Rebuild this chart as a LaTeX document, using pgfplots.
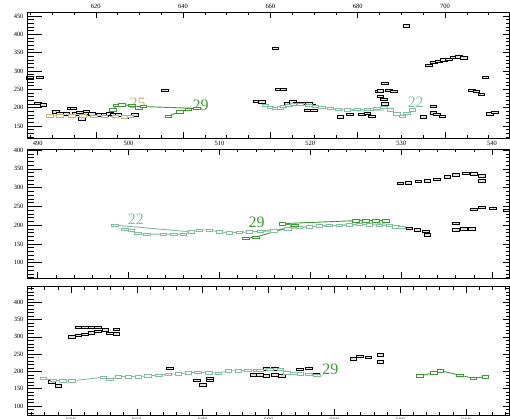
\documentclass[border=0pt]{standalone}
\usepackage{fontspec}
\setmainfont{Liberation Serif}
\usepackage{pgfplots}
\pgfplotsset{compat=1.18}
\definecolor{lg}{RGB}{128,190,158}
\definecolor{dg}{RGB}{62,152,52}
\definecolor{tanc}{RGB}{196,178,118}
\pgfdeclareplotmark{hbox}{\pgfpathrectangle{\pgfqpoint{-3.3pt}{-1.2pt}}{\pgfqpoint{6.6pt}{2.4pt}}\pgfusepathqfillstroke}
\tikzset{lab/.style={font=\fontsize{16}{16}\selectfont}}
\pgfplotsset{
 panel/.style={scale only axis, width=482bp, anchor=north west,
   tick style={black,line width=0.5pt}, axis line style={line width=0.6pt},
   tick label style={font=\fontsize{6.5}{7}\selectfont},
   /pgf/number format/assume math mode=true,
   /pgf/number format/set thousands separator={},
   ytick distance=50, minor y tick num=4, tick align=inside},
 mainax/.style={panel, ytick pos=right, yticklabels={}, major tick length=6bp, minor tick length=3bp},
 leftax/.style={panel, axis x line=none, axis y line*=left, major tick length=15bp, minor tick length=7bp},
 blk/.style={only marks, mark=hbox, mark options={draw=black, fill=gray!25, line width=0.75pt}},
 trk/.style={color=#1, line width=0.9pt, mark=hbox, mark options={draw=#1, fill=white, line width=0.6pt}},
}
\begin{document}
\begin{tikzpicture}
% ---------------- Panel 1 ----------------
\begin{axis}[mainax, at={(27bp,-12bp)}, height=126bp,
  xmin=604.25, xmax=714.67, ymin=117.3, ymax=460.9,
  xtick distance=20, minor x tick num=3, xticklabel pos=upper]
\addplot[blk] coordinates {
(604.9,281)(607.2,282)(606.8,212)(608.0,208)(610.9,189)(611.8,185)(613.3,183)(614.3,198)(614.9,198)
(615.5,183)(616.8,169)(616.4,187)(617.9,190)(618.0,185)(619.1,183)(621.0,180)(622.1,180)(623.3,183)
(624.0,181)(625.2,180)(626.7,175)(629.0,180)(635.9,248)(656.9,218)(658.1,216)(661.1,362)(661.9,250)
(663.0,250)(664.0,212)(665.1,216)(666.1,212)(667.2,212)(668.8,210)(669.5,207)(668.5,192)(670.0,192)
(676.0,175)(678.2,182)(681.0,182)(682.2,185)(683.3,177)(684.7,244)(685.2,246)(686.2,266)(685.2,230)
(686.0,223)(686.2,210)(687.1,247)(688.3,244)(691.2,423)(695.1,175)(697.3,204)(697.3,186)(698.2,182)
(699.4,177)(696.3,316)(697.4,323)(698.6,327)(699.7,330)(700.9,332)(702.0,337)(703.2,339)(704.3,336)
(709.3,283)(706.2,248)(707.2,244)(708.3,236)(710.3,183)(711.4,187)};
\addplot[trk=tanc] coordinates {
(609.5,178)(611.8,178)(614.5,178)(617,178)(619.5,177)(622,177)(624.5,176)(626.5,175)(627.9,176)};
\addplot[trk=dg] coordinates {
(623.9,194)(624.8,206)(626.0,208)(628.3,206)(629.8,200)(630.9,203)(643.2,198)(641.2,195)(639.3,189)(636.6,177)};
\addplot[trk=lg] coordinates {
(658.8,207)(660.0,201)(661.1,198)(662.3,200)(663.0,204)(664.2,207)(665.3,209)(666.9,209)(668.8,207)
(670.3,204)(671.8,201)(673.7,198)(675.6,195)(677.6,194)(679.9,195)(682.2,196)(684.4,198)(686.0,201)
(687.5,194)(689.0,183)(690.2,177)(691.3,184)(692.5,194)};
\addplot[lg, line width=0.8pt] coordinates {(677,192)(681,191)(686,194)};
\node[lab, text=tanc] at (axis cs:629.6,212.7) {25};
\node[lab, text=dg] at (axis cs:644.0,207) {29};
\node[lab, text=lg] at (axis cs:693.3,216) {22};
\end{axis}
\begin{axis}[leftax, at={(27bp,-12bp)}, height=126bp,
  xmin=604.25, xmax=714.67, ymin=117.3, ymax=460.9]
\end{axis}
% ---------------- Panel 2 ----------------
\begin{axis}[mainax, at={(27bp,-149bp)}, height=129bp,
  xmin=488.82, xmax=541.87, ymin=59.3, ymax=402.7,
  xtick distance=10, minor x tick num=4, xticklabel pos=upper]
\addplot[blk] coordinates {
(530.9,192)(531.8,187)(532.7,183)(532.9,174)(529.9,311)(530.8,313)(531.9,316)(532.9,318)(533.9,322)
(535.1,328)(536.0,334)(537.1,338)(538.0,336)(538.9,331)(538.9,318)(538.0,242)(538.9,247)(540.1,245)
(541.6,240)(536.0,205)(536.0,187)(536.9,190)(537.8,190)};
\addplot[lg, line width=0.9pt, mark=hbox, mark options={draw=lg, fill=white, line width=0.6pt}] coordinates {(498.5,200)(506.9,182)};
\addplot[trk=lg] coordinates {
(499.6,189)(500.3,187)(501.0,178)(502,176)(503.8,176)(505,176)(506,176)(506.9,182)(507.8,187)(508.9,187)
(510,182)(511.1,180)(512.2,181)(513.3,182)(514.5,183)(516,185)(517.5,190)(518.8,194)(519.9,196)(521.0,198)
(522.1,199)(523.2,200)(524.3,201)(525.4,202)(526.5,201)(527.6,200)(528.7,199)(529.4,196)(530.1,194)};
\addplot[lg, line width=0.8pt] coordinates {(513.3,182)(518.3,193)(523,199)(528,204)(530.1,196)};
\addplot[trk=dg] coordinates {
(512.9,165)(514.0,168)(518.3,199)(516.9,204)(525.0,212)(526.1,212)(527.2,212)(528.3,212)};
\node[lab, text=lg] at (axis cs:500.8,215.4) {22};
\node[lab, text=dg] at (axis cs:514.1,208.4) {29};
\end{axis}
\begin{axis}[leftax, at={(27bp,-149bp)}, height=129bp,
  xmin=488.82, xmax=541.87, ymin=59.3, ymax=402.7]
\end{axis}
% ---------------- Panel 3 ----------------
\begin{axis}[mainax, at={(27bp,-286.7bp)}, height=128.3bp,
  xmin=543.32, xmax=616.53, ymin=74, ymax=445,
  xtick distance=10, minor x tick num=4]
\addplot[blk] coordinates {
(547.1,170)(548.1,158)(550.1,172)(550.1,300)(551.1,305)(552.1,308)(553.1,312)(554.1,315)(555.2,320)
(551.1,328)(552.1,328)(553.1,328)(554.1,328)(555.9,310)(556.9,309)(556.9,322)(565.0,209)(569.1,175)
(570.0,161)(571.1,180)(571.1,175)(573.9,203)(575.4,202)(577.7,190)(578.7,190)(579.7,187)(581.0,190)
(582.0,187)(579.7,207)(581.0,207)(584.8,206)(586.1,209)(587.3,190)(592.9,236)(593.9,243)(595.2,241)
(597.0,248)(597.0,228)};
\addplot[trk=lg] coordinates {
(545.8,180)(547.3,175)(548.8,173)(550.1,173)(554.9,183)(555.9,177)(557.2,185)(558.7,185)(560.2,185)
(561.7,187)(563.3,189)(564.8,192)(566.3,193)(567.8,196)(569.3,198)(570.9,196)(572.4,195)(573.9,202)
(575.4,202)(576.9,204)(578.2,204)(578.7,204)(580.2,206)(581.8,206)(582.8,196)(583.8,195)(584.8,193)
(586.1,192)(587.3,189)};
\addplot[trk=dg] coordinates {
(603.0,187)(605.1,196)(606.1,202)(609.1,189)(611.1,180)(612.9,185)};
\node[lab, text=dg] at (axis cs:589.4,206) {29};
\end{axis}
\begin{axis}[leftax, at={(27bp,-286.7bp)}, height=128.3bp,
  xmin=543.32, xmax=616.53, ymin=74, ymax=445]
\end{axis}
\pgfresetboundingbox
\path[use as bounding box] (0bp,0bp) rectangle (510bp,-419bp);
\end{tikzpicture}
\end{document}
